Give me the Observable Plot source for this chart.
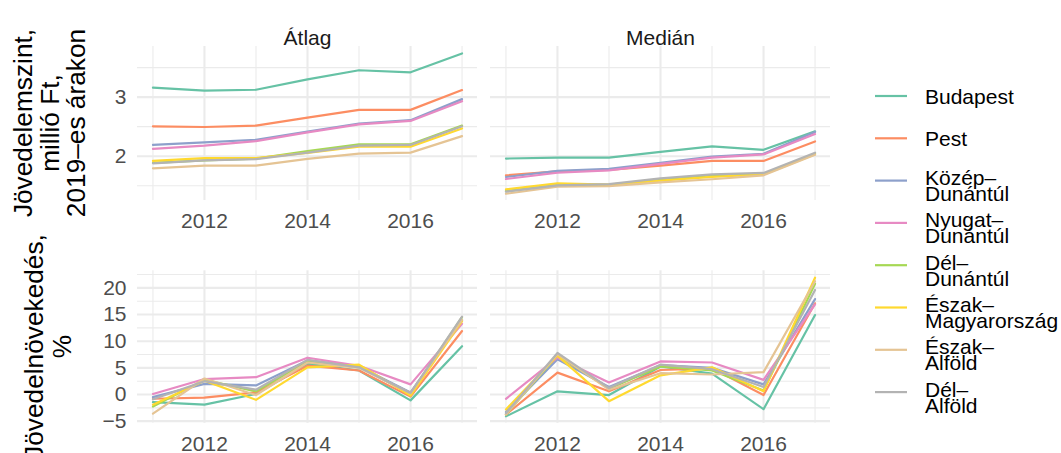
<!DOCTYPE html>
<html><head><meta charset="utf-8">
<script src="https://cdn.jsdelivr.net/npm/d3@7"></script>
<script src="https://cdn.jsdelivr.net/npm/@observablehq/plot@0.6"></script>
<style>
html,body{margin:0;padding:0;background:#fff;}
#chart{position:relative;width:1061px;height:453px;overflow:hidden;font-family:"Liberation Sans",Arial,sans-serif;background:#fff;}
#chart svg{position:absolute;left:0;top:0;}
</style></head><body><div id="chart"></div>
<script>
const years = [2011, 2012, 2013, 2014, 2015, 2016, 2017];
const stats = ["Átlag", "Medián"];
const regions = ["Budapest", "Pest", "Közép-Dunántúl", "Nyugat-Dunántúl", "Dél-Dunántúl", "Észak-Magyarország", "Észak-Alföld", "Dél-Alföld"];
const regionLabels = [["Budapest"], ["Pest"], ["Közép–", "Dunántúl"], ["Nyugat–", "Dunántúl"], ["Dél–", "Dunántúl"], ["Észak–", "Magyarország"], ["Észak–", "Alföld"], ["Dél–", "Alföld"]];
const colors = ["#66c2a5", "#fc8d62", "#8da0cb", "#e78ac3", "#a6d854", "#ffd92f", "#e5c494", "#b3b3b3"];

// Jövedelemszint, millió Ft (rows follow regions)
const levelMean = [
  [3.16, 3.11, 3.125, 3.30, 3.455, 3.42, 3.74],
  [2.506, 2.494, 2.517, 2.653, 2.784, 2.784, 3.12],
  [2.19, 2.233, 2.278, 2.415, 2.55, 2.61, 2.966],
  [2.125, 2.18, 2.256, 2.403, 2.54, 2.597, 2.93],
  [1.886, 1.93, 1.96, 2.085, 2.20, 2.20, 2.517],
  [1.92, 1.966, 1.966, 2.057, 2.16, 2.16, 2.47],
  [1.795, 1.84, 1.84, 1.955, 2.045, 2.06, 2.34],
  [1.88, 1.93, 1.95, 2.06, 2.18, 2.19, 2.506]
];
const levelMedian = [
  [1.96, 1.977, 1.977, 2.074, 2.165, 2.108, 2.42],
  [1.676, 1.744, 1.767, 1.84, 1.92, 1.92, 2.25],
  [1.648, 1.75, 1.784, 1.886, 1.994, 2.04, 2.41],
  [1.614, 1.72, 1.76, 1.87, 1.977, 2.03, 2.375],
  [1.41, 1.51, 1.52, 1.60, 1.68, 1.70, 2.045],
  [1.4375, 1.54, 1.52, 1.585, 1.65, 1.69, 2.034],
  [1.364, 1.483, 1.494, 1.557, 1.61, 1.676, 2.023],
  [1.40, 1.506, 1.528, 1.625, 1.693, 1.716, 2.06]
];
// Jövedelemnövekedés, %
const growthMean = [
  [-1.44, -1.9, 0.1, 5.75, 4.5, -1.1, 9.06],
  [-0.8, -0.6, 0.4, 5.4, 4.5, -0.4, 11.9],
  [-0.5, 2.0, 1.7, 6.4, 5.25, 0.4, 13.9],
  [0.1, 2.9, 3.25, 6.9, 5.4, 1.9, 13.25],
  [-2.25, 2.75, 0.6, 6.2, 5.25, 0.1, 14.5],
  [-1.9, 2.6, -1.0, 5.1, 5.6, -0.2, 13.75],
  [-3.6, 3.0, -0.1, 6.0, 5.0, 0.25, 14.0],
  [-0.9, 2.5, 0.9, 6.5, 5.1, 0.3, 14.6]
];
const growthMedian = [
  [-4.1, 0.6, -0.1, 5.25, 3.9, -2.75, 14.9],
  [-3.75, 4.1, 0.6, 4.6, 4.9, -0.1, 17.1],
  [-3.3, 6.6, 1.4, 5.5, 5.0, 1.9, 17.9],
  [-0.8, 6.9, 2.25, 6.2, 6.0, 2.75, 16.9],
  [-3.75, 7.4, 1.1, 5.25, 4.5, 0.75, 20.75],
  [-2.8, 7.3, -1.25, 3.6, 5.1, 0.6, 21.9],
  [-3.75, 7.6, 0.9, 4.0, 3.75, 4.2, 21.25],
  [-3.5, 7.8, 1.2, 5.6, 4.75, 1.4, 19.6]
];

const xMajor = [2012, 2014, 2016];
const xMinor = [2011, 2013, 2015, 2017];
const levelMajor = [2, 3];
const levelMinor = [1.5, 2.5, 3.5];
const growthMajor = [-5, 0, 5, 10, 15, 20];
const growthMinor = [-2.5, 2.5, 7.5, 12.5, 17.5, 22.5];
const titleLevel = ["Jövedelemszint,", "millió Ft,", "2019–es árakon"];
const titleGrowth = ["Jövedelnövekedés,", "%"];

function toRows(mean, median) {
  const out = [];
  [mean, median].forEach((m, si) => {
    m.forEach((vals, ri) => {
      vals.forEach((v, yi) => out.push({stat: stats[si], region: regions[ri], year: years[yi], value: v}));
    });
  });
  return out;
}
const levelData = toRows(levelMean, levelMedian);
const growthData = toRows(growthMean, growthMedian);

const FONT = '"Liberation Sans", Arial, sans-serif';
const fmtNum = d => (d < 0 ? "\u2212" + Math.abs(d) : String(d));
const grid = "#ebebeb";

function panelRow({data, yDomain, major, minor, marginTop, marginBottom, strips}) {
  const marks = [
    Plot.ruleY(minor, {stroke: grid, strokeWidth: 1.1}),
    Plot.ruleX(xMinor, {stroke: grid, strokeWidth: 1.1}),
    Plot.ruleY(major, {stroke: grid, strokeWidth: 2.1}),
    Plot.ruleX(xMajor, {stroke: grid, strokeWidth: 2.1}),
    Plot.axisY(major, {tickSize: 0, tickPadding: 11, tickFormat: fmtNum, label: null}),
    Plot.axisX(xMajor, {tickSize: 0, tickPadding: 13, tickFormat: d => String(d), label: null}),
    Plot.line(data, {x: "year", y: "value", z: "region", stroke: "region", fx: "stat", strokeWidth: 2.2})
  ];
  if (strips) marks.push(Plot.text(stats, {fx: d => d, text: d => d, frameAnchor: "top", dy: -16.5, fill: "#1a1a1a"}));
  return Plot.plot({
    width: 1061, height: 453,
    marginLeft: 136.5, marginRight: 229.5, marginTop, marginBottom,
    fx: {domain: stats, paddingInner: 0.0367, paddingOuter: 0, axis: null, label: null},
    x: {domain: [2010.7, 2017.3], axis: null},
    y: {domain: yDomain, axis: null},
    color: {domain: regions, range: colors},
    style: {fontFamily: FONT, fontSize: "21px", color: "#4d4d4d", background: "transparent", overflow: "visible"},
    marks
  });
}

const chart = document.getElementById("chart");
chart.appendChild(panelRow({data: levelData, yDomain: [1.25, 3.857], major: levelMajor, minor: levelMinor, marginTop: 46, marginBottom: 253, strips: true}));
chart.appendChild(panelRow({data: growthData, yDomain: [-5.4, 23.2], major: growthMajor, minor: growthMinor, marginTop: 270.3, marginBottom: 30.2, strips: false}));

// overlay: axis titles and legend
const svg = d3.select(chart).append("svg")
  .attr("width", 1061).attr("height", 453)
  .style("font-family", FONT).style("overflow", "hidden");

function vTitle(lines, xs, cy) {
  lines.forEach((t, i) => {
    svg.append("text")
      .attr("transform", `translate(${xs[i]},${cy}) rotate(-90)`)
      .attr("text-anchor", "middle").attr("dy", "0.35em")
      .attr("font-size", 26.25).attr("fill", "#000")
      .text(t);
  });
}
vTitle(titleLevel, [23, 49.5, 76], 123);
vTitle(titleGrowth, [34, 61.5], 346.5);

const lg = svg.append("g");
regions.forEach((r, i) => {
  const ky = 96 + i * 42.3;
  lg.append("line").attr("x1", 875).attr("x2", 907).attr("y1", ky).attr("y2", ky)
    .attr("stroke", colors[i]).attr("stroke-width", 2.2);
  const lines = regionLabels[i];
  const offs = lines.length === 1 ? [0] : [-3, 13];
  lines.forEach((t, j) => {
    lg.append("text").attr("x", 925).attr("y", ky + offs[j]).attr("dy", "0.36em")
      .attr("font-size", 21).attr("fill", "#000").text(t);
  });
});
</script></body></html>
